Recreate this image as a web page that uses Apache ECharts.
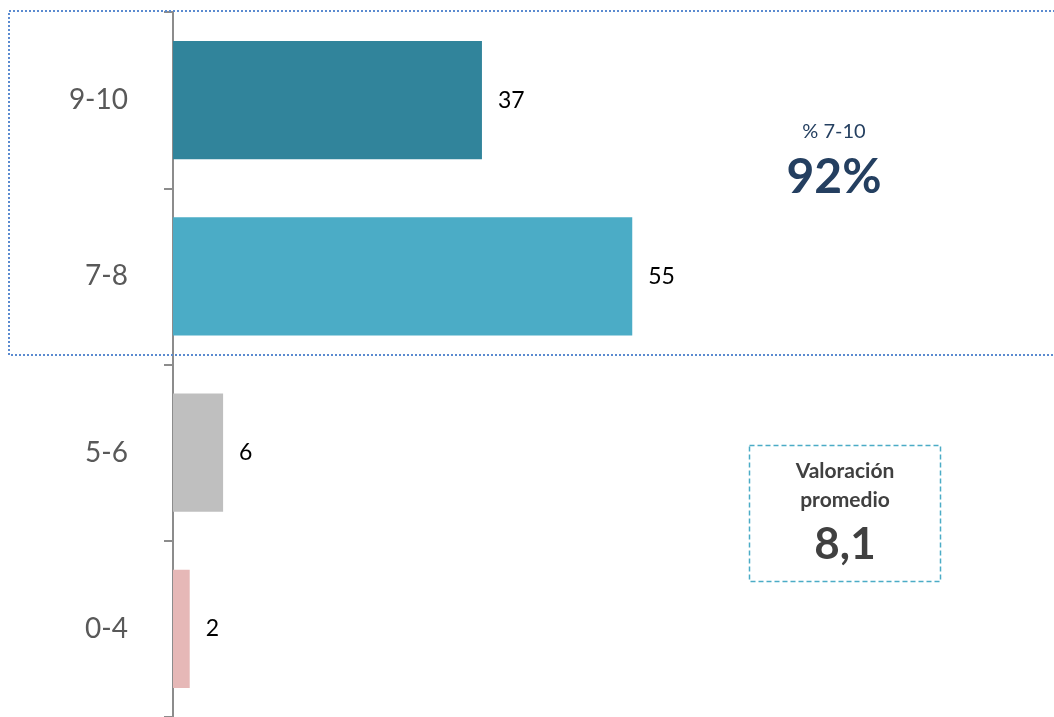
<!DOCTYPE html>
<html>
<head>
<meta charset="utf-8">
<script src="https://cdn.jsdelivr.net/npm/echarts@6/dist/echarts.min.js"></script>
<style>
  html, body { margin: 0; padding: 0; background: #fff; }
  #chart { width: 1054px; height: 717px; }
</style>
</head>
<body>
<div id="chart"></div>
<script>
// categories bottom -> top
const categories = ['0-4', '5-6', '7-8', '9-10'];
const values = [2, 6, 55, 37];
const barColors = ['#E6B8B7', '#BFBFBF', '#4BACC6', '#31849B'];
const highlightLabel = '% 7-10';
const highlightValue = '92%';
const avgTitle = ['Valoración', 'promedio'];
const avgValue = '8,1';

const font = 'Lato, "Open Sans", sans-serif';
const chartInstance = echarts.init(document.getElementById('chart'));

const option = {
  animation: false,
  grid: {
    left: 173,
    top: 12,
    width: 835,
    height: 710
  },
  xAxis: {
    type: 'value',
    min: 0,
    max: 100,
    show: false
  },
  yAxis: {
    type: 'category',
    data: categories,
    axisLine: { show: true, lineStyle: { color: '#8C8C8C', width: 2 } },
    axisTick: { show: true, length: 9, lineStyle: { color: '#8C8C8C', width: 2 } },
    axisLabel: { color: '#595959', fontSize: 28, fontFamily: font, margin: 45 },
    splitLine: { show: false }
  },
  series: [
    {
      type: 'bar',
      barWidth: '67%',
      data: values.map((v, i) => ({ value: v, itemStyle: { color: barColors[i] } })),
      label: {
        show: true,
        position: 'right',
        distance: 16,
        color: '#000',
        fontSize: 23,
        fontFamily: font
      }
    }
  ],
  graphic: [
    {
      type: 'rect',
      shape: { x: 9, y: 11, width: 1060, height: 344 },
      style: { fill: 'none', stroke: '#5B8BD0', lineWidth: 2, lineDash: [2, 2] },
      z: 1
    },
    {
      type: 'text',
      x: 834, y: 132,
      style: { text: highlightLabel, fill: '#243F60', fontSize: 20, fontFamily: font, align: 'center', verticalAlign: 'middle' }
    },
    {
      type: 'text',
      x: 834, y: 178,
      style: { text: highlightValue, fill: '#243F60', fontSize: 48, fontWeight: 'bold', fontFamily: font, align: 'center', verticalAlign: 'middle' }
    },
    {
      type: 'rect',
      shape: { x: 749.5, y: 445.5, width: 191, height: 136 },
      style: { fill: 'none', stroke: '#4BACC6', lineWidth: 1.5, lineDash: [5, 3] }
    },
    {
      type: 'text',
      x: 845, y: 471,
      style: { text: avgTitle[0], fill: '#404040', fontSize: 21, fontWeight: 'bold', fontFamily: font, align: 'center', verticalAlign: 'middle' }
    },
    {
      type: 'text',
      x: 845, y: 500,
      style: { text: avgTitle[1], fill: '#404040', fontSize: 21, fontWeight: 'bold', fontFamily: font, align: 'center', verticalAlign: 'middle' }
    },
    {
      type: 'text',
      x: 845, y: 545,
      style: { text: avgValue, fill: '#404040', fontSize: 44, fontWeight: 'bold', fontFamily: font, align: 'center', verticalAlign: 'middle' }
    }
  ]
};

chartInstance.setOption(option);
window.addEventListener('resize', function () {
  chartInstance.resize();
});
</script>
</body>
</html>
